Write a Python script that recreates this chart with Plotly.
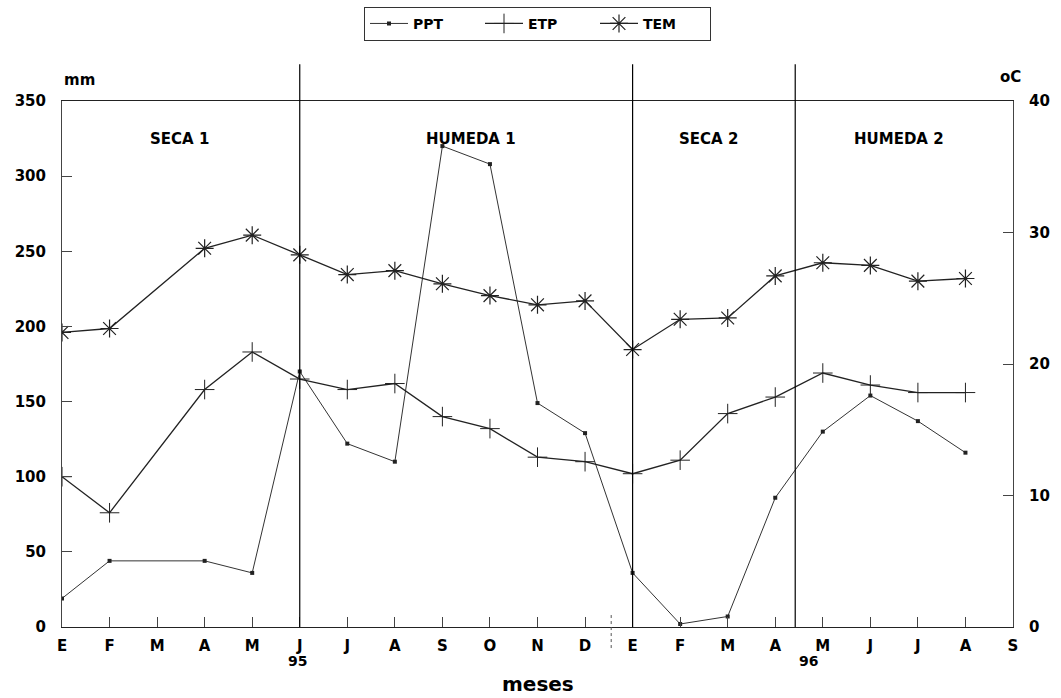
import plotly.graph_objects as go

months = ["E", "F", "M", "A", "M", "J", "J", "A", "S", "O", "N", "D",
          "E", "F", "M", "A", "M", "J", "J", "A", "S"]
ppt = [19, 44, None, 44, 36, 170, 122, 110, 320, 308, 149, 129,
       36, 2, 7, 86, 130, 154, 137, 116]
etp = [100, 76, None, 158, 183, 165, 158, 162, 140, 132, 113, 110,
       102, 111, 142, 153, 169, 161, 156, 156]
tem = [22.4, 22.7, None, 28.8, 29.8, 28.3, 26.8, 27.1, 26.1, 25.2, 24.5, 24.8,
       21.1, 23.4, 23.5, 26.7, 27.7, 27.5, 26.3, 26.5]
season_bounds = [5, 12, 15.42]
season_labels = ["SECA 1", "HUMEDA 1", "SECA 2", "HUMEDA 2"]
season_label_x = [2.47, 8.6, 13.6, 17.6]
year_labels = ["95", "96"]
year_label_x = [4.95, 15.7]
year_mark_x = 11.55

xs = list(range(len(ppt)))
FONT = "DejaVu Sans, Liberation Sans, Arial, sans-serif"

fig = go.Figure()
fig.add_trace(go.Scatter(
    x=xs, y=ppt, name="PPT", mode="lines+markers", connectgaps=True,
    line=dict(color="#333333", width=1),
    marker=dict(symbol="square", size=4, color="#222222")))
fig.add_trace(go.Scatter(
    x=xs, y=etp, name="ETP", mode="lines+markers", connectgaps=True,
    line=dict(color="#222222", width=1.3),
    marker=dict(symbol="cross-thin-open", size=14, line=dict(color="#222222", width=1))))
fig.add_trace(go.Scatter(
    x=xs, y=tem, name="TEM", mode="lines+markers", connectgaps=True, yaxis="y2",
    line=dict(color="#222222", width=1.3),
    marker=dict(symbol="asterisk-open", size=15, line=dict(color="#222222", width=1.2))))

shapes = []
for b in season_bounds:
    shapes.append(dict(type="line", xref="x", yref="paper", x0=b, x1=b, y0=0, y1=1.07,
                       line=dict(color="black", width=1.2)))
shapes.append(dict(type="line", xref="x", yref="paper", x0=year_mark_x, x1=year_mark_x,
                   y0=-0.04, y1=0.028, line=dict(color="#555", width=1, dash="dot")))
fig.update_layout(shapes=shapes)

ann = []
for lab, lx in zip(season_labels, season_label_x):
    ann.append(dict(x=lx, y=325, xref="x", yref="y", text=lab, showarrow=False,
                    font=dict(family=FONT, size=15, color="black", weight="bold")))
for lab, lx in zip(year_labels, year_label_x):
    ann.append(dict(x=lx, y=-0.064, xref="x", yref="paper", text=lab,
                    showarrow=False, yanchor="middle",
                    font=dict(family=FONT, size=14, color="black", weight="bold")))
ann.append(dict(x=0.018, y=1.04, xref="paper", yref="paper", text="mm", showarrow=False,
                xanchor="center", yanchor="middle",
                font=dict(family=FONT, size=15, color="black", weight="bold")))
ann.append(dict(x=0.997, y=1.046, xref="paper", yref="paper", text="oC", showarrow=False,
                xanchor="center", yanchor="middle",
                font=dict(family=FONT, size=15, color="black", weight="bold")))
ann.append(dict(x=0.5, y=-0.108, xref="paper", yref="paper", text="meses", showarrow=False,
                yanchor="middle",
                font=dict(family=FONT, size=20, color="black", weight="bold")))
fig.update_layout(annotations=ann)

axfont = dict(family=FONT, size=15, color="black", weight="bold")
fig.update_layout(
    width=1061, height=698,
    paper_bgcolor="white", plot_bgcolor="white",
    margin=dict(l=62, r=48, t=101, b=71, autoexpand=False),
    font=dict(family=FONT, color="black"),
    xaxis=dict(range=[0, 20], tickvals=list(range(len(months))), ticktext=months,
               ticks="inside", ticklen=10, tickcolor="#444", tickfont=axfont,
               ticklabelstandoff=5, automargin=False,
               showgrid=False, zeroline=False, showline=True, linecolor="#222",
               linewidth=1.2, mirror=True),
    yaxis=dict(range=[0, 350], tickvals=[0, 50, 100, 150, 200, 250, 300, 350],
               ticks="inside", ticklen=10, tickcolor="#444", tickfont=axfont,
               ticklabelstandoff=12, automargin=False,
               showgrid=False, zeroline=False, showline=True, linecolor="#444",
               linewidth=1, mirror=False),
    yaxis2=dict(range=[0, 40], tickvals=[0, 10, 20, 30, 40], overlaying="y", side="right",
                ticks="inside", ticklen=10, tickcolor="#444", tickfont=axfont,
                ticklabelstandoff=12, automargin=False,
                showgrid=False, zeroline=False, showline=True, linecolor="#444",
                linewidth=1),
    showlegend=True,
    legend=dict(orientation="h", x=0.5, xanchor="center", y=1.179, yanchor="top",
                bordercolor="#333", borderwidth=1, bgcolor="white",
                font=dict(family=FONT, size=14, color="black", weight="bold"),
                itemwidth=38, entrywidth=62, tracegroupgap=0),
)

fig.write_html("out.html", config={"displayModeBar": False},
               post_script="document.body.style.margin='0px';")
